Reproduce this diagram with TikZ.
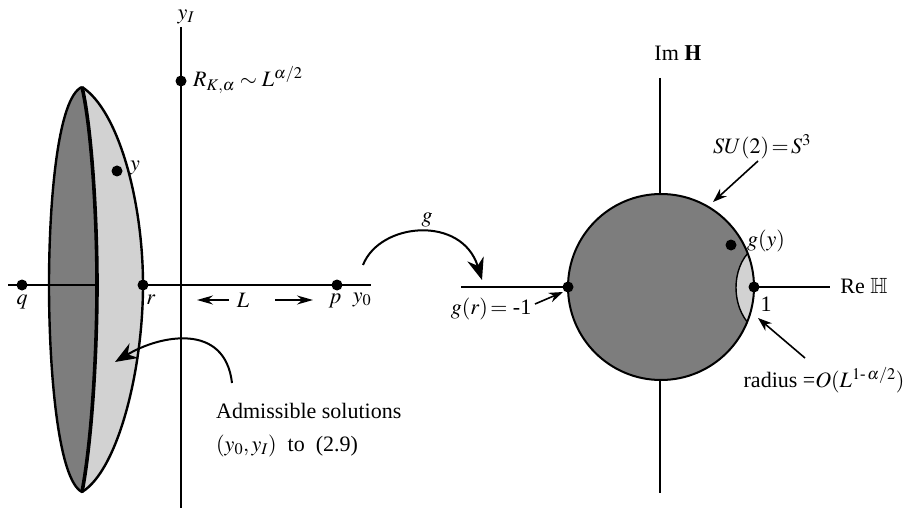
\documentclass[tikz,border=0pt]{standalone}
\usepackage{mathptmx}
\usepackage{amsmath,amssymb}
\usepackage{fontspec}
\setmainfont{Liberation Serif}
\usetikzlibrary{arrows.meta}
\definecolor{darkfill}{RGB}{125,125,125}
\definecolor{lightfill}{RGB}{210,210,210}
\tikzset{
  lbl/.style={font=\fontsize{22}{26}\selectfont, inner sep=0pt},
  dot/.style={circle, fill=black, inner sep=0pt, minimum size=11pt},
  axisline/.style={line width=1.8pt},
  outline/.style={line width=2.4pt, line join=round},
  larr/.style={line width=1.5pt, -{Stealth[length=16pt,width=9pt]}},
  sarr/.style={line width=1.6pt, -{Stealth[length=14pt,width=10pt]}},
  bigarr/.style={line width=2pt, -{Stealth[length=22pt,width=17pt]}},
}
\begin{document}
\begin{tikzpicture}[x=1pt,y=-1pt]
\useasboundingbox (0,0) rectangle (919,508);

% ---------- left part ----------
\coordinate (T) at (82,87);
\coordinate (B) at (82,492);
% dark region
\fill[darkfill] (T) .. controls (58,97) and (49,200) .. (49,285)
  .. controls (49,370) and (58,480) .. (B)
  .. controls (92,440) and (97,350) .. (97,285)
  .. controls (97,220) and (92,130) .. (T) -- cycle;
% light region
\fill[lightfill] (T) .. controls (92,130) and (97,220) .. (97,285)
  .. controls (97,350) and (92,440) .. (B)
  .. controls (118,470) and (143,370) .. (143,285)
  .. controls (143,200) and (118,110) .. (T) -- cycle;
% outer outline
\draw[outline] (T) .. controls (58,97) and (49,200) .. (49,285)
  .. controls (49,370) and (58,480) .. (B)
  .. controls (118,470) and (143,370) .. (143,285)
  .. controls (143,200) and (118,110) .. (T);
% middle curve
\draw[line width=3.6pt] (T) .. controls (92,130) and (97,220) .. (97,285)
  .. controls (97,350) and (92,440) .. (B);

% axes
\coordinate (hl) at (8,285);
\coordinate (hm) at (97,285);
\coordinate (hr) at (371,285);
\coordinate (vt) at (181,27);
\coordinate (vb) at (181,508);
\draw[axisline] (hl) -- (hm);
\draw[axisline] (143,285) -- (hr);
\draw[axisline] (vt) -- (vb);

\node[lbl] (yI) at (186,17) {$y_I$};
\node[dot] (R) at (181,81) {};
\node[lbl, anchor=west] (Rlab) at (193,80) {$R_{K,\alpha}\sim L^{\alpha/2}$};
\node[dot] (q) at (22,285) {};
\node[lbl] (qlab) at (22,302) {$q$};
\node[dot] (r) at (143,285) {};
\node[lbl] (rlab) at (151,300) {$r$};
\node[dot] (p) at (337,285) {};
\node[lbl] (plab) at (335,301) {$p$};
\node[lbl] (y0lab) at (362,300) {$y_0$};
\node[dot] (y) at (117,171) {};
\node[lbl] (ylab) at (135,168) {$y$};

\node[lbl] (L) at (243,300) {$L$};
\coordinate (La) at (229,300);
\coordinate (Lleft) at (197,300);
\coordinate (Lb) at (275,300);
\coordinate (Lright) at (313,300);
\draw[larr] (La) -- (Lleft);
\draw[larr] (Lb) -- (Lright);

\node[lbl, anchor=west] (adm) at (216,411) {Admissible solutions};
\node[lbl, anchor=west] (adm2) at (216,446) {$(y_0, y_I)$\ \ to\ \ (2.9)};
\coordinate (admstart) at (232,383);
\coordinate (admtip) at (115,362);
\draw[bigarr] (admstart) .. controls (225,322) and (160,335) .. (admtip);

% ---------- middle arrow ----------
\node[lbl] (glab) at (427,220) {$g$};
\coordinate (gs) at (363,265);
\coordinate (ge) at (482,280);
\draw[bigarr] (gs) .. controls (380,222) and (462,215) .. (ge);

% ---------- right part ----------
\coordinate (rl) at (461,287);
\coordinate (rr) at (830,287);
\coordinate (vt2) at (660,78);
\coordinate (vb2) at (660,493);
\draw[axisline] (rl) -- (rr);
\draw[axisline] (vt2) -- (vb2);

\fill[darkfill] (661,287) circle[radius=93];
\begin{scope}
  \clip (661,287) circle[radius=93];
  \fill[lightfill] (751,250) .. controls (731,268) and (731,307) .. (751,326) -- (780,326) -- (780,250) -- cycle;
  \draw[line width=1.4pt] (751,250) .. controls (731,268) and (731,307) .. (751,326);
\end{scope}
\draw[line width=2pt] (661,287) circle[radius=93];

\node[dot] (m1) at (568,287) {};
\node[dot] (one) at (754,287) {};
\node[dot] (gy) at (731,245) {};
\node[lbl] (onelab) at (766,304) {1};
\node[lbl] (gylab) at (766,241) {$g(y)$};
\node[lbl] (ImH) at (678,53) {Im $\mathbf{H}$};
\node[lbl] (ReH) at (864,286) {Re $\mathbb{H}$};
\node[lbl] (su) at (762,147) {$SU(2)\,{=}\,S^3$};
\node[lbl] (grlab) at (491,309) {$g(r)\,{=}$ -1};
\node[lbl] (rad) at (824,380) {radius =$O(L^{1\text{-}\,\alpha/2})$};

\coordinate (sus) at (758,161);
\coordinate (sue) at (713,202);
\draw[sarr] (sus) -- (sue);
\coordinate (grs) at (535,304);
\coordinate (gre) at (563,292);
\draw[sarr] (grs) -- (gre);
\coordinate (rads) at (805,358);
\coordinate (rade) at (758,318);
\draw[sarr] (rads) -- (rade);
\end{tikzpicture}
\end{document}
